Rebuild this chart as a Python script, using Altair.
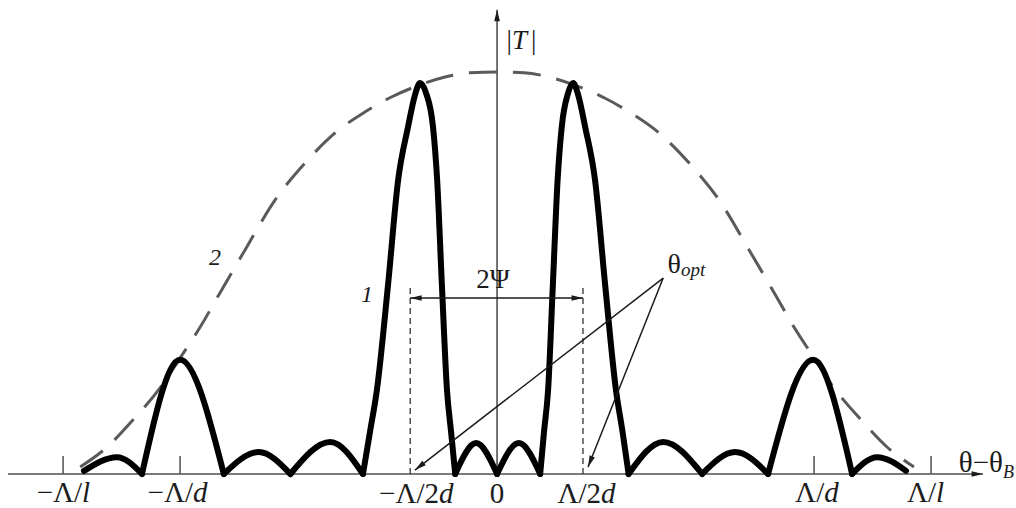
import math
import altair as alt
import pandas as pd

# ---------------------------------------------------------------------------
# Curve 1: |T| against the detuning θ−θB.  Detuning in units of Λ/d,
# |T| normalised to the two main maxima.  One inner list per lobe.
LOBES_U = [
    [-1.303, -1.199, -1.120],
    [-1.120, -1.000, -0.862],
    [-0.862, -0.752, -0.652],
    [-0.652, -0.526, -0.423],
    [-0.423, -0.401, -0.379, -0.344, -0.312, -0.281, -0.259, -0.243,
     -0.224, -0.202, -0.189, -0.174, -0.158, -0.145, -0.132],
    [-0.132, -0.066, 0.000],
    [0.000, 0.069, 0.136],
    [0.136, 0.148, 0.161, 0.176, 0.191, 0.204, 0.224, 0.240,
     0.256, 0.278, 0.309, 0.341, 0.375, 0.396, 0.415],
    [0.415, 0.524, 0.647],
    [0.647, 0.751, 0.855],
    [0.855, 0.997, 1.120],
    [1.120, 1.199, 1.290],
]
LOBES_T = [
    [0.008, 0.043, 0.000],
    [0.000, 0.292, 0.000],
    [0.000, 0.056, 0.000],
    [0.000, 0.082, 0.000],
    [0.000, 0.107, 0.215, 0.483, 0.752, 0.887, 0.969, 1.000,
     0.974, 0.887, 0.752, 0.483, 0.215, 0.107, 0.000],
    [0.000, 0.079, 0.000],
    [0.000, 0.079, 0.000],
    [0.000, 0.107, 0.215, 0.483, 0.752, 0.887, 0.974, 1.000,
     0.969, 0.887, 0.752, 0.483, 0.215, 0.107, 0.000],
    [0.000, 0.082, 0.000],
    [0.000, 0.056, 0.000],
    [0.000, 0.292, 0.000],
    [0.000, 0.043, 0.008],
]

# Curve 2: the envelope (dashed)
ENV_U = [-1.315, -1.230, -1.151, -1.063, -0.994, -0.937, -0.880, -0.795,
         -0.700, -0.606, -0.511, -0.416, -0.338, -0.243, -0.164, -0.085,
         0.000, 0.085, 0.164, 0.243, 0.338, 0.416, 0.511, 0.606, 0.700,
         0.795, 0.880, 0.937, 0.994, 1.063, 1.151, 1.230, 1.315]
ENV_T = [0.018, 0.069, 0.136, 0.220, 0.304, 0.375, 0.455, 0.573,
         0.701, 0.795, 0.872, 0.926, 0.962, 0.995, 1.015, 1.026,
         1.028, 1.026, 1.015, 0.995, 0.962, 0.926, 0.872, 0.795, 0.701,
         0.573, 0.455, 0.375, 0.304, 0.220, 0.136, 0.069, 0.018]

# Axis labels: upright part + italic part
TICK_U = [-1.369, -1.0, -0.274, 0.0, 0.271, 1.0, 1.369]
TICK_TEXT = ["−Λ/", "−Λ/", "−Λ/2", "0", "Λ/2", "Λ/", "Λ/"]
TICK_ITALIC = ["l", "d", "d", "", "d", "d", "l"]
SHORT_TICKS = [-1.369, -1.0, 1.0, 1.369]

# Angular width 2Ψ between ±Λ/2d, and the two optimum angles θopt
PSI_EDGES = [-0.274, 0.271]
OPT_APEX = (0.524, 0.501)
OPT_TIPS_U = [-0.259, 0.287]
OPT_TIPS_T = [0.010, 0.018]

# ---------------------------------------------------------------------------
# layout
W, H = 1016, 508
X_DOMAIN = [-1.568, 1.637]
Y_DOMAIN = [-0.087, 1.212]
KX = W / (X_DOMAIN[1] - X_DOMAIN[0])
KY = H / (Y_DOMAIN[1] - Y_DOMAIN[0])

X_AXIS = (-1.543, 1.533)
Y_AXIS_TOP = 1.187
TICK_LEN = 0.046
GUIDE_TOP = 0.478
PSI_T = 0.450

INK = "#1b1b1b"
AXIS_GRAY = "#4f4f4f"
ENV_GRAY = "#5a5a5a"
FONT = "Liberation Serif"

xs = alt.Scale(domain=X_DOMAIN, nice=False, zero=False)
ys = alt.Scale(domain=Y_DOMAIN, nice=False, zero=False)


def X(f):
    return alt.X(f, type="quantitative", scale=xs, axis=None)


def Y(f):
    return alt.Y(f, type="quantitative", scale=ys, axis=None)


def heading(u0, t0, u1, t1):
    """Screen rotation (deg, clockwise from up) of the segment p0 -> p1."""
    sx = (u1 - u0) * KX
    sy = -(t1 - t0) * KY
    return math.degrees(math.atan2(sx, -sy)) % 360


def text_layer(rows, align, size, italic=False):
    df = pd.DataFrame(rows, columns=["u", "t", "text"])
    return alt.Chart(df).mark_text(
        align=align, baseline="alphabetic", font=FONT, fontSize=size,
        fontStyle="italic" if italic else "normal", color=INK,
    ).encode(x=X("u"), y=Y("t"), text="text:N")


# axes
axes_df = pd.DataFrame({
    "u": [X_AXIS[0], 0.0], "u2": [X_AXIS[1], 0.0],
    "t": [0.0, 0.0], "t2": [0.0, Y_AXIS_TOP],
})
axes = alt.Chart(axes_df).mark_rule(color=AXIS_GRAY, strokeWidth=1.6).encode(
    x=X("u"), x2="u2", y=Y("t"), y2="t2")

ticks_df = pd.DataFrame({"u": SHORT_TICKS, "t": 0.0, "t2": TICK_LEN})
ticks = alt.Chart(ticks_df).mark_rule(color=AXIS_GRAY, strokeWidth=1.5).encode(
    x=X("u"), y=Y("t"), y2="t2")

# dashed verticals at ±Λ/2d
guides_df = pd.DataFrame({"u": PSI_EDGES, "t": 0.0, "t2": GUIDE_TOP})
guides = alt.Chart(guides_df).mark_rule(
    color="#333333", strokeWidth=1.3, strokeDash=[6, 4]).encode(
    x=X("u"), y=Y("t"), y2="t2")

# 2Ψ dimension line
psi_df = pd.DataFrame({"u": [PSI_EDGES[0]], "u2": [PSI_EDGES[1]], "t": [PSI_T]})
psi = alt.Chart(psi_df).mark_rule(color=INK, strokeWidth=1.3).encode(
    x=X("u"), x2="u2", y=Y("t"))

# θopt leaders
opt_df = pd.DataFrame({
    "u": [OPT_APEX[0]] * 2, "t": [OPT_APEX[1]] * 2,
    "u2": OPT_TIPS_U, "t2": OPT_TIPS_T,
})
opt = alt.Chart(opt_df).mark_rule(color=INK, strokeWidth=1.5).encode(
    x=X("u"), y=Y("t"), x2="u2", y2="t2")

# arrowheads (tip at the symbol origin)
heads = [
    (X_AXIS[1], 0.0, heading(0, 0, 1, 0)),
    (0.0, Y_AXIS_TOP, heading(0, 0, 0, 1)),
    (PSI_EDGES[0], PSI_T, heading(0, PSI_T, PSI_EDGES[0], PSI_T)),
    (PSI_EDGES[1], PSI_T, heading(0, PSI_T, PSI_EDGES[1], PSI_T)),
]
for tu, tt in zip(OPT_TIPS_U, OPT_TIPS_T):
    heads.append((tu, tt, heading(OPT_APEX[0], OPT_APEX[1], tu, tt)))
heads_df = pd.DataFrame(heads, columns=["u", "t", "ang"])
arrowheads = alt.Chart(heads_df).mark_point(
    shape="M0,0L0.5,2L-0.5,2Z", filled=True, size=130, color=INK,
    opacity=1, strokeWidth=0).encode(
    x=X("u"), y=Y("t"), angle=alt.Angle("ang:Q", scale=None))

# curves
rows = []
for k, (us, ts) in enumerate(zip(LOBES_U, LOBES_T)):
    for u, t in zip(us, ts):
        rows.append((k, u, t))
curve_df = pd.DataFrame(rows, columns=["lobe", "u", "t"])
curve = alt.Chart(curve_df).mark_line(
    interpolate="monotone", color="black", strokeWidth=6,
    strokeCap="round", strokeJoin="round").encode(
    x=X("u"), y=Y("t"), detail="lobe:N")

env_df = pd.DataFrame({"u": ENV_U, "t": ENV_T})
envelope = alt.Chart(env_df).mark_line(
    interpolate="monotone", color=ENV_GRAY, strokeWidth=3,
    strokeDash=[28, 16]).encode(x=X("u"), y=Y("t"))

# tick labels: split point between upright and italic pieces
SPLIT_U = [-1.309, -0.959, -0.183, 0.0, 0.328, 1.032, 1.385]
BASE_T = [-0.072, -0.072, -0.075, -0.075, -0.075, -0.072, -0.072]
up_rows, it_rows, ctr_rows = [], [], []
for s, b, a, i in zip(SPLIT_U, BASE_T, TICK_TEXT, TICK_ITALIC):
    if i:
        up_rows.append((s, b, a))
        it_rows.append((s, b, i))
    else:
        ctr_rows.append((s, b, a))

labels = [
    text_layer(up_rows, "right", 29),
    text_layer(it_rows, "left", 29, italic=True),
    text_layer(ctr_rows, "center", 29),
    # |T|
    text_layer([(0.047, 1.087, "|")], "right", 27),
    text_layer([(0.047, 1.087, "T")], "left", 27, italic=True),
    text_layer([(0.107, 1.087, "|")], "left", 27),
    # θ−θB
    text_layer([(1.596, 0.005, "θ−θ")], "right", 29),
    text_layer([(1.596, -0.010, "B")], "left", 18, italic=True),
    # θopt
    text_layer([(0.580, 0.514, "θ")], "right", 28),
    text_layer([(0.580, 0.506, "opt")], "left", 19, italic=True),
    # 2Ψ and curve numbers
    text_layer([(-0.013, 0.476, "2Ψ")], "center", 27),
    text_layer([(-0.410, 0.440, "1"), (-0.890, 0.535, "2")], "center", 24, italic=True),
]

chart = alt.layer(
    axes, ticks, guides, envelope, curve, psi, opt, arrowheads, *labels
).properties(
    width=W, height=H, padding=0,
    autosize=alt.AutoSizeParams(type="none"), background="white",
).configure_view(stroke=None)

chart.save("out.html", embed_options={"renderer": "svg", "actions": False})
